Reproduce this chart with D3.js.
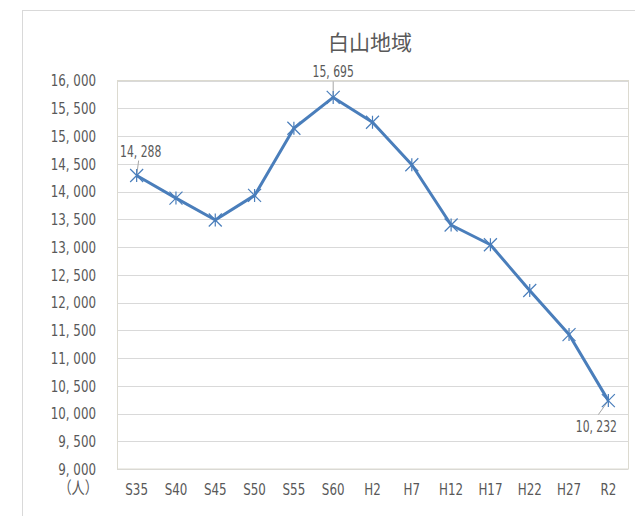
<!DOCTYPE html>
<html>
<head>
<meta charset="utf-8">
<script src="https://cdn.jsdelivr.net/npm/d3@7"></script>
<style>
body { margin: 0; background: #fff; }
text { font-family: "Liberation Sans Narrow", "DejaVu Sans", "Noto Sans CJK JP", sans-serif; font-stretch: condensed; fill: #595959; }
</style>
</head>
<body>
<div id="c"></div>
<script>
var categories = ['S35', 'S40', 'S45', 'S50', 'S55', 'S60', 'H2', 'H7', 'H12', 'H17', 'H22', 'H27', 'R2'];
var population = [14288, 13881, 13487, 13930, 15139, 15695, 15247, 14482, 13397, 13041, 12216, 11422, 10232];
var y_ticks = [9000, 9500, 10000, 10500, 11000, 11500, 12000, 12500, 13000, 13500, 14000, 14500, 15000, 15500, 16000];
var labelled = ['S35', 'S60', 'R2'];

var width = 635, height = 516;
var plot_l = 117, plot_r = 628, plot_t = 80.5, plot_b = 469;
var sx = 0.8; // horizontal squeeze, the source font is a tall narrow one

var svg = d3.select('#c').append('svg')
	.attr('width', width)
	.attr('height', height);

// outer chart frame
svg.append('rect')
	.attr('x', 22.5).attr('y', 10.5)
	.attr('width', 700).attr('height', 600)
	.attr('fill', 'none')
	.attr('stroke', '#d9d9d9');

var x = d3.scaleBand().domain(categories).range([plot_l, plot_r]);
var y = d3.scaleLinear().domain([9000, 16000]).range([plot_b, plot_t]);

function fmt(v) { return d3.format(',')(v).replace(',', ', '); }
function at(px, py) { return 'translate(' + px + ',' + py + ') scale(' + sx + ',1)'; }

// gridlines
svg.append('g').selectAll('line')
	.data(y_ticks)
	.enter().append('line')
	.attr('x1', plot_l).attr('x2', plot_r)
	.attr('y1', function(d) { return Math.round(y(d)) + 0.5; })
	.attr('y2', function(d) { return Math.round(y(d)) + 0.5; })
	.attr('stroke', '#d9d9d9');

// plot frame
svg.append('rect')
	.attr('x', plot_l + 0.5).attr('y', plot_t)
	.attr('width', plot_r - plot_l).attr('height', plot_b - plot_t)
	.attr('fill', 'none')
	.attr('stroke', '#dcdad0');

// y axis labels
svg.append('g').selectAll('text')
	.data(y_ticks)
	.enter().append('text')
	.attr('transform', function(d) { return at(96, y(d)); })
	.attr('dy', '0.36em')
	.attr('text-anchor', 'end')
	.attr('font-size', 16.5)
	.text(fmt);

svg.append('text')
	.attr('transform', at(98, 494))
	.attr('text-anchor', 'end')
	.attr('font-size', 16.5)
	.text('（人）');

// x axis labels
svg.append('g').selectAll('text')
	.data(categories)
	.enter().append('text')
	.attr('transform', function(d) { return at(x(d) + x.bandwidth() / 2, 495); })
	.attr('text-anchor', 'middle')
	.attr('font-size', 16.5)
	.text(function(d) { return d; });

// title
svg.append('text')
	.attr('x', 370).attr('y', 50)
	.attr('text-anchor', 'middle')
	.attr('font-size', 21)
	.style('font-family', '"Noto Sans CJK JP", sans-serif')
	.style('font-stretch', 'normal')
	.text('白山地域');

var pts = categories.map(function(c, i) {
	return { cat: c, v: population[i], px: x(c) + x.bandwidth() / 2, py: y(population[i]) };
});

// leader lines and data labels
var label_pos = {
	'S35': { dx: 4, dy: -19, lx: 2, ly: -15 },
	'S60': { dx: 0, dy: -20, lx: 0, ly: -16 },
	'R2': { dx: -12, dy: 31, lx: -10, ly: 14 }
};
pts.filter(function(d) { return labelled.indexOf(d.cat) >= 0; }).forEach(function(d) {
	var p = label_pos[d.cat];
	svg.append('line')
		.attr('x1', d.px).attr('y1', d.py)
		.attr('x2', d.px + p.lx).attr('y2', d.py + p.ly)
		.attr('stroke', '#a6a6a6');
	svg.append('text')
		.attr('transform', at(d.px + p.dx, d.py + p.dy))
		.attr('text-anchor', 'middle')
		.attr('font-size', 15)
		.text(fmt(d.v));
});

// series line
svg.append('path')
	.datum(pts)
	.attr('d', d3.line().x(function(d) { return d.px; }).y(function(d) { return d.py; }))
	.attr('fill', 'none')
	.attr('stroke', '#4a7ebb')
	.attr('stroke-width', 3)
	.attr('stroke-linejoin', 'round');

// star markers
var s = 6.5;
svg.append('g').selectAll('path')
	.data(pts)
	.enter().append('path')
	.attr('d', function(d) {
		return 'M' + (d.px - s) + ',' + (d.py - s) + 'L' + (d.px + s) + ',' + (d.py + s) +
			'M' + (d.px - s) + ',' + (d.py + s) + 'L' + (d.px + s) + ',' + (d.py - s) +
			'M' + d.px + ',' + (d.py - s) + 'L' + d.px + ',' + (d.py + s);
	})
	.attr('stroke', '#4a7ebb')
	.attr('stroke-width', 1.2)
	.attr('fill', 'none');
</script>
</body>
</html>
